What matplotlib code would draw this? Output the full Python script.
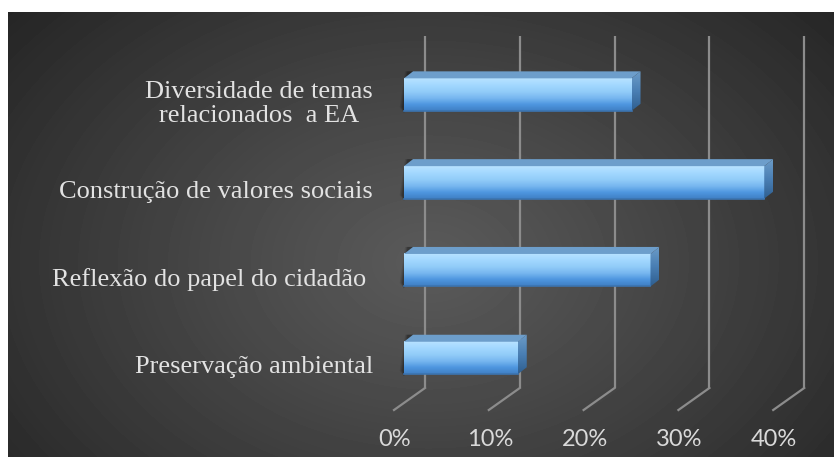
import matplotlib.pyplot as plt
import numpy as np
from matplotlib.patches import Polygon
from matplotlib.colors import LinearSegmentedColormap

categories = ['Preservação ambiental', 'Reflexão do papel do cidadão ',
              'Construção de valores sociais', 'Diversidade de temas\nrelacionados  a EA']
values = [12, 26, 38, 24]
ticks = [0, 10, 20, 30, 40]
tick_labels = ['0%', '10%', '20%', '30%', '40%']

W, H = 834, 457
fig = plt.figure(figsize=(W / 100, H / 100), dpi=100, facecolor='white')

# background radial gradient (dark grey)
bg = fig.add_axes([8 / W, 0, (W - 8) / W, (H - 12) / H])
ny, nx = H - 12, W - 8
yy, xx = np.mgrid[0:ny, 0:nx]
r = np.sqrt(((xx - 420) / 560.0) ** 2 + ((yy - 250) / 400.0) ** 2)
r = np.clip(r, 0, 1)
val = (0x5a - (0x5a - 0x24) * r ** 1.1) / 255.0
bg.imshow(val, cmap='gray', vmin=0, vmax=1, aspect='auto', interpolation='bilinear')
bg.axis('off')

# main axes covering the figure, data units: x in %, y in category index
ppx = 9.48   # pixels per percent
ppy = 87.8   # pixels per category
x0, y0 = 404, 358
ax = fig.add_axes([0, 0, 1, 1])
ax.patch.set_alpha(0)
ax.set_xlim(-x0 / ppx, (W - x0) / ppx)
ax.set_ylim((y0 - H) / ppy, y0 / ppy)
ax.axis('off')

# depth offsets
back_dx = 21 / ppx
bar_dx, bar_dy = 9 / ppx, 7 / ppy
h = 32.5 / ppy
grid_top = (y0 - 36) / ppy
grid_bot = (y0 - 388) / ppy
floor_front = (y0 - 410) / ppy

grid_c = '#8c8c8c'
for t, lab in zip(ticks, tick_labels):
    xb = t + back_dx
    xf = t + back_dx - 31 / ppx
    ax.plot([xb, xb], [grid_bot, grid_top], color=grid_c, lw=1.6, zorder=1,
            solid_capstyle='butt')
    ax.plot([xb, xf], [grid_bot, floor_front], color=grid_c, lw=1.6, zorder=1)
    ax.text(xf + 1 / ppx, (y0 - 440) / ppy, lab, ha='center', va='center', fontsize=17,
            color='#d9d9d9', family='Lato')

face_cmap = LinearSegmentedColormap.from_list(
    'face', ['#3f7fc4', '#4f97e0', '#79b8f0', '#93cdf9', '#a3d8ff', '#b8e2ff'])
end_cmap = LinearSegmentedColormap.from_list('end', ['#2f5f90', '#4a7fb4', '#6c9cc8'])
grad = np.linspace(0, 1, 64).reshape(-1, 1)

for i, (cat, v) in enumerate(zip(categories, values)):
    lo, hi = i - h / 2, i + h / 2
    # soft shadow behind left end
    for k, a in enumerate([0.10, 0.14, 0.18]):
        s = 0.45 - k * 0.12
        ax.add_patch(Polygon([(0, lo - 0.02), (-s, lo + 0.04), (-s + bar_dx * 0.6, hi + bar_dy),
                              (bar_dx, hi + bar_dy)], closed=True, color='black',
                             alpha=a, lw=0, zorder=2))
    # front face
    ax.imshow(grad, cmap=face_cmap, extent=[0, v, lo, hi], origin='lower',
              aspect='auto', zorder=4, interpolation='bilinear')
    ax.plot([0, v], [lo, lo], color='#3c74b0', lw=1.2, zorder=5)
    # top face
    ax.add_patch(Polygon([(0, hi), (v, hi), (v + bar_dx, hi + bar_dy), (bar_dx, hi + bar_dy)],
                         closed=True, facecolor='#6d9ecb', edgecolor='none', zorder=4))
    # end face
    end = ax.imshow(grad, cmap=end_cmap, extent=[v, v + bar_dx, lo, hi + bar_dy],
                    origin='lower', aspect='auto', zorder=4, interpolation='bilinear')
    clip = Polygon([(v, lo), (v, hi), (v + bar_dx, hi + bar_dy), (v + bar_dx, lo + bar_dy)],
                   closed=True, transform=ax.transData, facecolor='none', edgecolor='none')
    ax.add_patch(clip)
    end.set_clip_path(clip)
    # category label
    ax.text(-31 / ppx, i - 9.5 / ppy, cat, ha='right', va='center', fontsize=19,
            color='#e2e2e2', family='Liberation Serif', linespacing=1.1,
            multialignment='center')

fig.savefig('out.png', dpi=100, facecolor='white')
